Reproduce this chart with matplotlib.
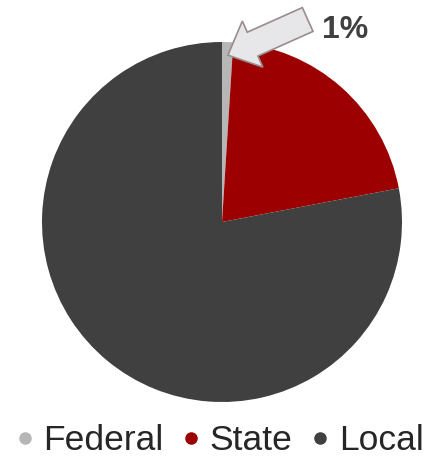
import matplotlib
matplotlib.use('Agg')
import matplotlib.pyplot as plt
from matplotlib.lines import Line2D
from matplotlib.patches import FancyArrow

plt.rcParams['font.family'] = ['Liberation Sans', 'DejaVu Sans']

# Funding shares by level of government
labels = ['Federal', 'State', 'Local']
shares = [1, 21, 78]
colors = ['#b6b6b6', '#9c0000', '#404040']
callout = '1%'

fig = plt.figure(figsize=(4.34, 4.57), dpi=100)
ax = fig.add_axes([0, 0, 1, 1])

ax.pie(shares, colors=colors, startangle=90, counterclock=False,
       radius=1.0, wedgeprops=dict(linewidth=0))

# one data unit = 180 px, pie centred at (222, 222) from the top-left
ax.set_xlim(-222 / 180, (434 - 222) / 180)
ax.set_ylim(-(457 - 222) / 180, 222 / 180)
ax.set_aspect('auto')
ax.axis('off')

# block arrow pointing at the small federal slice
arrow = FancyArrow(0.476, 1.125, -0.443, -0.198, width=0.145, head_width=0.28,
                   head_length=0.15, length_includes_head=True,
                   facecolor='#e7e7ea', edgecolor='#9a8c8c', linewidth=1.2,
                   clip_on=False, zorder=5)
ax.add_patch(arrow)
ax.text(0.555, 1.022, callout, fontsize=23, fontweight='bold',
        color='#404040', ha='left', va='baseline')

handles = [Line2D([], [], marker='o', linestyle='', markersize=8,
                  markerfacecolor=c, markeredgecolor=c) for c in colors]
fig.legend(handles, labels, loc='lower center', bbox_to_anchor=(0.506, 0.0),
           ncol=3, frameon=False, fontsize=25.5, handletextpad=0.28,
           columnspacing=0.52, handlelength=0.5, borderaxespad=0,
           borderpad=0, labelcolor='#262626')

fig.savefig('out.png', dpi=100)
